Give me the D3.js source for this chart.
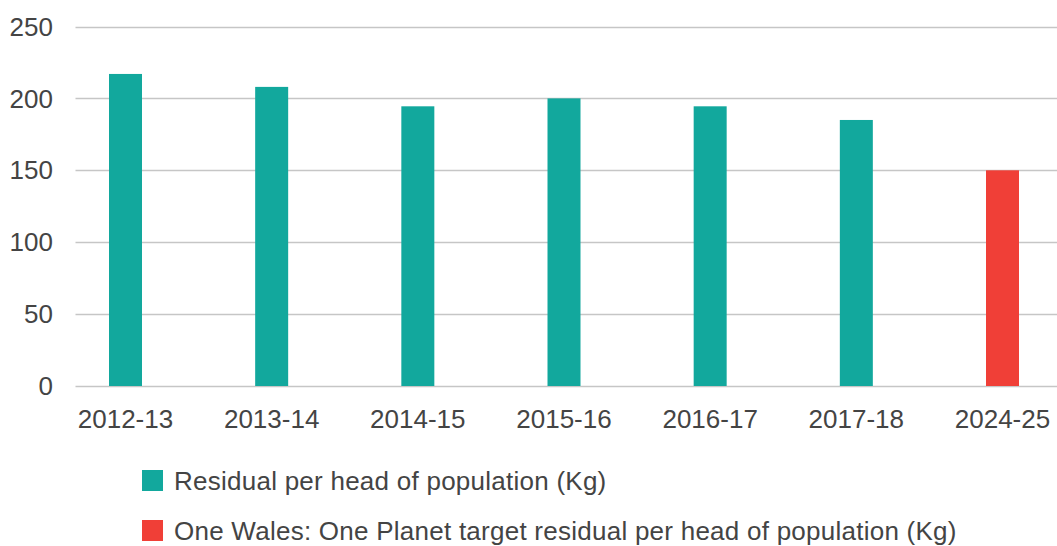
<!DOCTYPE html>
<html>
<head>
<meta charset="utf-8">
<script src="https://cdn.jsdelivr.net/npm/d3@7"></script>
<style>
  body { margin: 0; background: #fff; }
  text { font-family: "Liberation Sans", Arial, sans-serif; fill: #444; }
</style>
</head>
<body>
<svg id="chart" width="1057" height="546"></svg>
<script>
// values
const years = ["2012-13", "2013-14", "2014-15", "2015-16", "2016-17", "2017-18", "2024-25"];
const residual = [217, 208, 194.5, 200, 194.5, 185, null];
const target = [null, null, null, null, null, null, 150];
const yTicks = [0, 50, 100, 150, 200, 250];
const legendLabels = [
  "Residual per head of population (Kg)",
  "One Wales: One Planet target residual per head of population (Kg)"
];

const TEAL = "#12a89d";
const RED = "#f03f37";

const svg = d3.select("#chart");

// plot area
var gridLeft = 75.5, gridRight = 1057;
var x = d3.scalePoint().domain(years).range([125.5, 1002.5]);
var y = d3.scaleLinear().domain([0, 250]).range([386, 26.5]);
var barW = 33;

// gridlines
svg.append("g")
  .selectAll("line")
  .data(yTicks)
  .enter().append("line")
    .attr("x1", gridLeft)
    .attr("x2", gridRight)
    .attr("y1", d => Math.round(y(d)) + 0.5)
    .attr("y2", d => Math.round(y(d)) + 0.5)
    .attr("stroke", "#c6c6c6")
    .attr("stroke-width", 1.3);

// y axis labels
svg.append("g")
  .selectAll("text")
  .data(yTicks)
  .enter().append("text")
    .attr("x", 53)
    .attr("y", d => y(d))
    .attr("dy", "0.35em")
    .attr("text-anchor", "end")
    .style("font-size", "26px")
    .text(d => d);

// bars: residual series then target series
function drawBars(values, color) {
  svg.append("g")
    .selectAll("rect")
    .data(years.map((c, i) => ({ c: c, v: values[i] })).filter(d => d.v != null))
    .enter().append("rect")
      .attr("x", d => x(d.c) - barW / 2)
      .attr("y", d => y(d.v))
      .attr("width", barW)
      .attr("height", d => y(0) - y(d.v))
      .attr("fill", color);
}
drawBars(residual, TEAL);
drawBars(target, RED);

// x labels
svg.append("g")
  .selectAll("text")
  .data(years)
  .enter().append("text")
    .attr("x", d => x(d))
    .attr("y", 428)
    .attr("text-anchor", "middle")
    .style("font-size", "26px")
    .text(d => d);

// legend
var legend = svg.append("g")
  .selectAll("g")
  .data(legendLabels)
  .enter().append("g")
    .attr("transform", (d, i) => "translate(142," + (470 + i * 50) + ")");

legend.append("rect")
  .attr("width", 21)
  .attr("height", 21)
  .attr("fill", (d, i) => i === 0 ? TEAL : RED);

legend.append("text")
  .attr("x", 32)
  .attr("y", 10.5)
  .attr("dy", "0.35em")
  .style("font-size", "26px")
  .style("letter-spacing", "0.25px")
  .text(d => d);
</script>
</body>
</html>
